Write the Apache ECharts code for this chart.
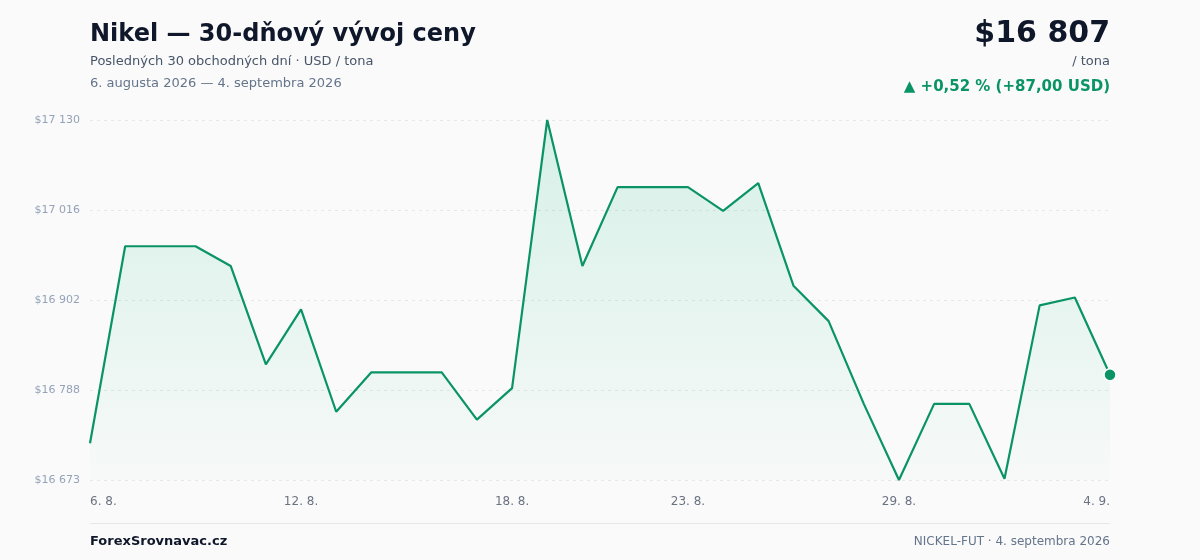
<!DOCTYPE html>
<html>
<head>
<meta charset="utf-8">
<script src="https://cdn.jsdelivr.net/npm/echarts@6/dist/echarts.min.js"></script>
<style>
html,body{margin:0;padding:0;background:#fafafa;}
#c{width:1200px;height:560px;}
</style>
</head>
<body>
<div id="c"></div>
<script>
const dates = ["6. 8.","7. 8.","8. 8.","9. 8.","10. 8.","11. 8.","12. 8.","13. 8.","14. 8.","15. 8.","16. 8.","17. 8.","18. 8.","19. 8.","20. 8.","21. 8.","22. 8.","23. 8.","24. 8.","25. 8.","26. 8.","27. 8.","28. 8.","29. 8.","30. 8.","31. 8.","1. 9.","2. 9.","3. 9.","4. 9."];
const prices = [16720,16970,16970,16970,16945,16820,16890,16760,16810,16810,16810,16750,16790,17130.2,16945,17045,17045,17045,17015,17050,16920,16875,16770,16673.4,16770,16770,16675,16895,16905,16807];
const shownLabelIdx = [0,6,12,17,23,29];
const titleText = "Nikel — 30-dňový vývoj ceny";
const subtitleText = "Posledných 30 obchodných dní · USD / tona";
const rangeText = "6. augusta 2026 — 4. septembra 2026";
const priceText = "$16 807";
const unitText = "/ tona";
const changeText = "▲ +0,52 % (+87,00 USD)";
const brandText = "ForexSrovnavac.cz";
const sourceText = "NICKEL-FUT · 4. septembra 2026";

const yMin = Math.min(...prices);
const yMax = Math.max(...prices);
const yInterval = (yMax - yMin) / 4;

function fmt(v){
  const n = Math.round(v).toString().replace(/\B(?=(\d{3})+(?!\d))/g, " ");
  return "$" + n;
}

const FONT = "DejaVu Sans";
const green = "#0a9466";
const chart = echarts.init(document.getElementById('c'), null, {renderer:'canvas'});
chart.setOption({
  backgroundColor: "#fafafa",
  textStyle: {fontFamily: FONT},
  animation: false,
  grid: {left: 90, right: 90, top: 120, bottom: 80},
  xAxis: {
    type: 'category',
    data: dates,
    boundaryGap: false,
    axisLine: {show: false},
    axisTick: {show: false},
    splitLine: {show: false},
    axisLabel: {
      color: "#6b7280",
      fontSize: 12,
      fontFamily: FONT,
      margin: 16,
      interval: (i) => shownLabelIdx.includes(i),
      alignMinLabel: 'left',
      alignMaxLabel: 'right'
    }
  },
  yAxis: {
    type: 'value',
    min: yMin,
    max: yMax,
    interval: yInterval,
    axisLine: {show: false},
    axisTick: {show: false},
    splitLine: {lineStyle: {color: "#e5e7eb", type: [3, 4], width: 1}},
    axisLabel: {
      color: "#94a3b8",
      fontSize: 11,
      fontFamily: FONT,
      margin: 10,
      formatter: fmt
    }
  },
  series: [{
    type: 'line',
    data: prices.map((v, i) => i === prices.length - 1 ? {value: v, symbol: 'circle', symbolSize: 12} : v),
    showSymbol: true,
    symbol: 'none',
    lineStyle: {color: green, width: 2.2},
    itemStyle: {color: green, borderColor: "#ffffff", borderWidth: 1.5},
    areaStyle: {
      color: new echarts.graphic.LinearGradient(0, 0, 0, 1, [
        {offset: 0, color: "rgba(16,185,129,0.22)"},
        {offset: 1, color: "rgba(16,185,129,0.02)"}
      ])
    },
    emphasis: {disabled: true}
  }],
  graphic: [
    {type: 'text', left: 90, top: 23, style: {text: titleText, font: "bold 24px 'DejaVu Sans'", fill: "#0f172a"}},
    {type: 'text', left: 90, top: 55, style: {text: subtitleText, font: "13px 'DejaVu Sans'", fill: "#475569"}},
    {type: 'text', left: 90, top: 77, style: {text: rangeText, font: "13px 'DejaVu Sans'", fill: "#64748b"}},
    {type: 'text', right: 90, top: 19, style: {text: priceText, font: "bold 30px 'DejaVu Sans'", fill: "#0f172a"}},
    {type: 'text', right: 90, top: 55, style: {text: unitText, font: "13px 'DejaVu Sans'", fill: "#475569"}},
    {type: 'text', right: 90, top: 80, style: {text: changeText, font: "bold 15px 'DejaVu Sans'", fill: green}},
    {type: 'rect', left: 90, top: 523, shape: {width: 1020, height: 1}, style: {fill: "#e5e7eb"}},
    {type: 'text', left: 90, top: 535, style: {text: brandText, font: "bold 13px 'DejaVu Sans'", fill: "#0f172a"}},
    {type: 'text', right: 90, top: 536, style: {text: sourceText, font: "12px 'DejaVu Sans'", fill: "#64748b"}}
  ]
});
</script>
</body>
</html>
